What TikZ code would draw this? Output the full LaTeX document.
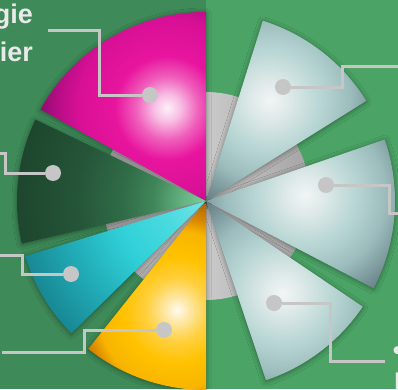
\documentclass[tikz,border=0pt]{standalone}
\usepackage{fontspec}
\setmainfont{Liberation Sans}
\usetikzlibrary{shadows.blur}
\definecolor{bgL}{HTML}{3E8A58}
\definecolor{bgR}{HTML}{4BA466}
\definecolor{lineg}{HTML}{C6C6C6}
\definecolor{txtc}{HTML}{EAEAEA}
\definecolor{grayA}{HTML}{A4A4A4}
\definecolor{grayB}{HTML}{CACACA}
% magenta
\definecolor{mg0}{HTML}{FDF0F8}\definecolor{mg1}{HTML}{F8C0E4}\definecolor{mg2}{HTML}{F060BC}
\definecolor{mg3}{HTML}{E8159E}\definecolor{mg4}{HTML}{D81096}\definecolor{mg5}{HTML}{B80D86}\definecolor{mg6}{HTML}{8A0A70}
% gold
\definecolor{go0}{HTML}{FFFAF0}\definecolor{go1}{HTML}{FDE6A0}\definecolor{go2}{HTML}{FFD040}
\definecolor{go3}{HTML}{FFC200}\definecolor{go4}{HTML}{F8B400}\definecolor{go5}{HTML}{D88800}\definecolor{go6}{HTML}{B06800}
% silver
\definecolor{si0}{HTML}{F2F5F5}\definecolor{si1}{HTML}{DDE9E8}\definecolor{si2}{HTML}{B8D6D4}
\definecolor{si3}{HTML}{9CBDBD}\definecolor{si4}{HTML}{789498}\definecolor{si5}{HTML}{5C7479}
% cyan
\definecolor{cy0}{HTML}{70E4E8}\definecolor{cy1}{HTML}{48DADE}\definecolor{cy2}{HTML}{30D0D8}
\definecolor{cy3}{HTML}{22AFBA}\definecolor{cy4}{HTML}{188894}
% dark green
\definecolor{dg0}{HTML}{7ECC98}\definecolor{dg1}{HTML}{66B482}\definecolor{dg2}{HTML}{40865A}
\definecolor{dg3}{HTML}{306C47}\definecolor{dg4}{HTML}{255539}\definecolor{dg5}{HTML}{1D462D}
\pgfdeclareradialshading{mgshade}{\pgfpoint{0bp}{0bp}}{color(0bp)=(mg0); color(2.5bp)=(mg1); color(6bp)=(mg2); color(10bp)=(mg3); color(17bp)=(mg4); color(21bp)=(mg5); color(25bp)=(mg6); color(50bp)=(mg6)}
\pgfdeclareradialshading{goshade}{\pgfpoint{0bp}{0bp}}{color(0bp)=(go0); color(3bp)=(go1); color(7bp)=(go2); color(12bp)=(go3); color(18bp)=(go4); color(21bp)=(go5); color(25bp)=(go6); color(50bp)=(go6)}
\pgfdeclareradialshading{sishade}{\pgfpoint{0bp}{0bp}}{color(0bp)=(si0); color(4bp)=(si1); color(10bp)=(si2); color(16bp)=(si3); color(21bp)=(si4); color(25bp)=(si5); color(50bp)=(si5)}
\pgfdeclareradialshading{cyshade}{\pgfpoint{0bp}{0bp}}{color(0bp)=(cy0); color(6bp)=(cy1); color(12bp)=(cy2); color(18bp)=(cy3); color(25bp)=(cy4); color(50bp)=(cy4)}
\pgfdeclareradialshading{dgshade}{\pgfpoint{0bp}{0bp}}{color(0bp)=(dg0); color(3bp)=(dg1); color(7bp)=(dg2); color(11bp)=(dg3); color(17bp)=(dg4); color(25bp)=(dg5); color(50bp)=(dg5)}
\tikzset{
  sec/.style n args={3}{insert path={(206,188) -- ++(#1:#3) arc[start angle=#1,end angle=#2,radius=#3] -- cycle}},
  secshadow/.style={blur shadow={shadow xshift=0pt,shadow yshift=-1pt,shadow blur radius=5pt,shadow opacity=40,shadow blur steps=8}},
  dotnode/.style={circle,inner sep=0pt,minimum size=16pt,fill=lineg},
  conn/.style={draw=lineg,line width=3pt},
  lbl/.style={text=txtc,font=\bfseries\fontsize{27}{38}\selectfont,inner sep=0pt}
}
\begin{document}
\begin{tikzpicture}[x=1pt,y=1pt]
\useasboundingbox (0,0) rectangle (398,389);
\begin{scope}
\clip (0,0) rectangle (398,389);
\fill[bgL] (0,0) rectangle (206,389);
\fill[bgR] (206,0) rectangle (398,389);
% gray disc
\shade[left color=grayA,right color=grayA,middle color=grayB] (206,193) circle (104);
% shadows
\path[secshadow,sec={90}{151}{189}];
\path[secshadow,sec={154.5}{193}{189}];
\path[secshadow,sec={197}{224.5}{189}];
\path[secshadow,sec={231.5}{270}{189}];
\path[secshadow,sec={32}{72.5}{189}];
\path[secshadow,sec={-27.5}{19}{189}];
\path[secshadow,sec={-71.5}{-34}{189}];
% magenta
\begin{scope}\clip[sec={90}{151}{189}];
\shade[shading=mgshade] (167,281) circle (130);\end{scope}
% dark green
\begin{scope}\clip[sec={154.5}{193}{189}];
\shade[shading=dgshade] (206,188) circle (190);\end{scope}
% cyan
\begin{scope}\clip[sec={197}{224.5}{189}];
\shade[shading=cyshade] (206,190) circle (190);\end{scope}
% gold
\begin{scope}\clip[sec={231.5}{270}{189}];
\shade[shading=goshade] (177,79) circle (110);\end{scope}
% silver 1
\begin{scope}\clip[sec={32}{72.5}{189}];
\shade[shading=sishade] (270,289) circle (125);\end{scope}
% silver 2
\begin{scope}\clip[sec={-27.5}{19}{189}];
\shade[shading=sishade] (305,194) circle (125);\end{scope}
% silver 3
\begin{scope}\clip[sec={-71.5}{-34}{189}];
\shade[shading=sishade] (283,96) circle (125);\end{scope}
% dots
\node[dotnode] (dm) at (150,294) {};
\node[dotnode] (dd) at (53,216) {};
\node[dotnode] (dc) at (71,115) {};
\node[dotnode] (dg) at (164,59) {};
\node[dotnode] (ds1) at (283,302) {};
\node[dotnode] (ds2) at (326,204) {};
\node[dotnode] (ds3) at (274,86) {};
% bends and ends
\coordinate (m1) at (99,358); \coordinate (m2) at (48,358);
\coordinate (d1) at (5,236); \coordinate (d2) at (-3,236);
\coordinate (c1) at (22,134); \coordinate (c2) at (-3,134);
\coordinate (g1) at (84,37); \coordinate (g2) at (2,37);
\coordinate (s11) at (342,322); \coordinate (s12) at (402,322);
\coordinate (s21) at (389,176); \coordinate (s22) at (402,176);
\coordinate (s31) at (330,28); \coordinate (s32) at (385,28);
\draw[conn] (dm) -| (m1) -- (m2);
\draw[conn] (dd) -| (d1) -- (d2);
\draw[conn] (dc) -| (c1) -- (c2);
\draw[conn] (dg) -| (g1) -- (g2);
\draw[conn] (ds1) -| (s11) -- (s12);
\draw[conn] (ds2) -| (s21) -- (s22);
\draw[conn] (ds3) -| (s31) -- (s32);
% labels
\node[lbl,anchor=base east] (t1) at (33,365) {gie};
\node[lbl,anchor=base east] (t2) at (33,327) {ier};
\node[lbl,anchor=base west] (t3) at (392.6,29.3) {•};
\node[lbl,anchor=base west] (t4) at (394,-2.3) {I};
\end{scope}
\end{tikzpicture}
\end{document}
